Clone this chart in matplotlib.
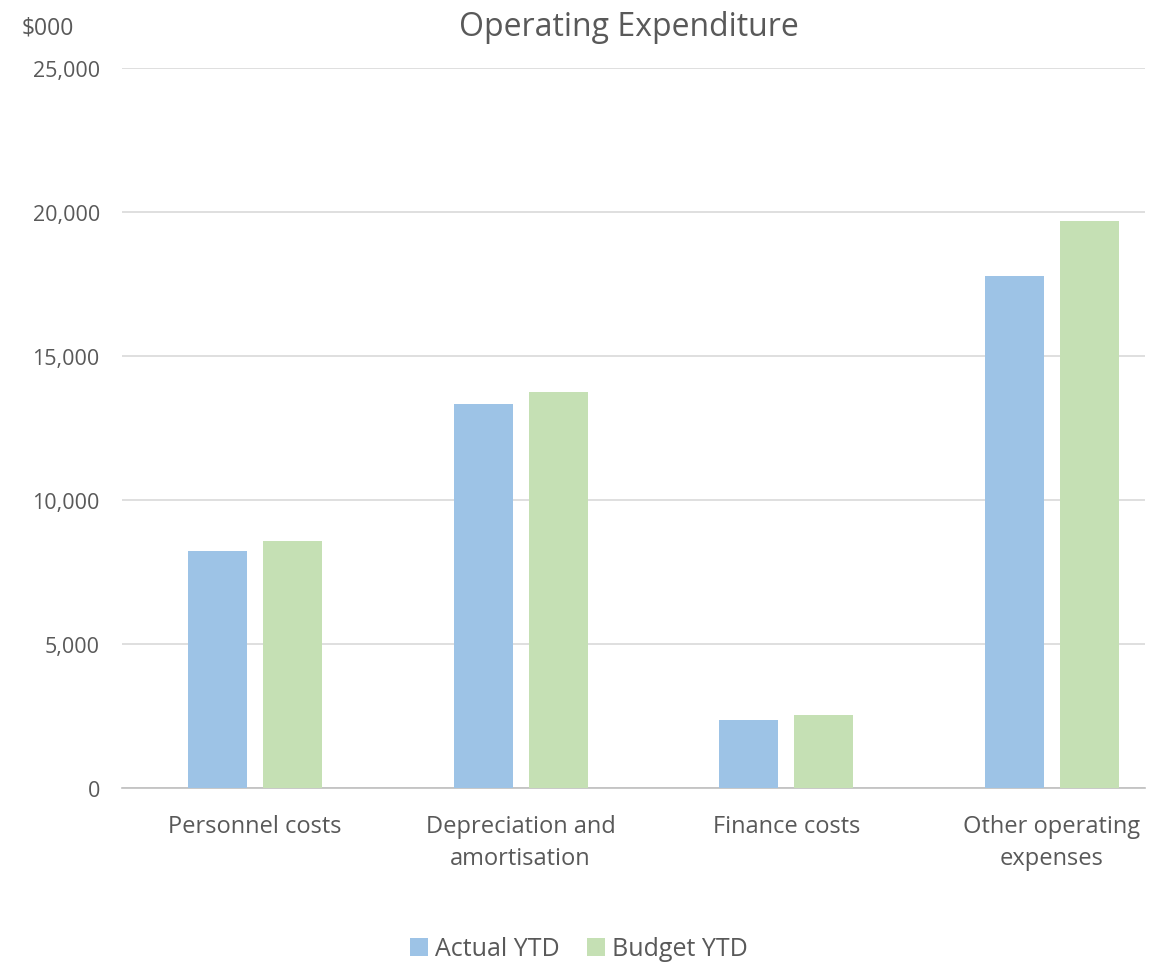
import matplotlib.pyplot as plt
import numpy as np

categories = ["Personnel costs", "Depreciation and\namortisation",
              "Finance costs", "Other operating\nexpenses"]
actual_ytd = [8230, 13330, 2360, 17780]
budget_ytd = [8570, 13760, 2530, 19700]

plt.rcParams['font.family'] = ['Open Sans', 'DejaVu Sans']
text_col = '#595959'

fig = plt.figure(figsize=(11.57, 9.7), dpi=100)
ax = fig.add_axes([122 / 1157, 1 - 789 / 970, (1145 - 122) / 1157, (789 - 69) / 970])

x = np.arange(len(categories))
w = 0.222
off = 0.141
ax.bar(x - off, actual_ytd, w, color='#9DC3E6', label='Actual YTD', zorder=3)
ax.bar(x + off, budget_ytd, w, color='#C5E0B4', label='Budget YTD', zorder=3)

ax.set_xlim(-0.5, 3.35)
ax.set_ylim(0, 25000)
ax.set_yticks(range(0, 25001, 5000))
ax.set_yticklabels([f"{v:,}" for v in range(0, 25001, 5000)])
ax.set_xticks(x)
ax.set_xticklabels(categories, fontsize=17, linespacing=1.45)
ax.yaxis.grid(True, color='#D9D9D9', linewidth=1.2, zorder=0)
for s in ['top', 'right', 'left']:
    ax.spines[s].set_visible(False)
ax.spines['bottom'].set_color('#BFBFBF')
ax.spines['bottom'].set_linewidth(1.2)
ax.tick_params(axis='both', length=0, colors=text_col)
ax.tick_params(axis='y', pad=16, labelsize=15.5)
ax.tick_params(axis='x', pad=19)

fig.text(629 / 1157, 1 - 27 / 970, "Operating Expenditure", ha='center', va='center',
         fontsize=23, color=text_col)
fig.text(22 / 1157, 1 - 28 / 970, "$000", ha='left', va='center',
         fontsize=16.5, color=text_col)

fig.legend(loc='center', bbox_to_anchor=(579 / 1157, 1 - 950 / 970), ncol=2,
           frameon=False, fontsize=18, labelcolor=text_col, handlelength=0.7,
           handleheight=0.7, handletextpad=0.3, columnspacing=1.1)

fig.savefig('out.png', dpi=100)
